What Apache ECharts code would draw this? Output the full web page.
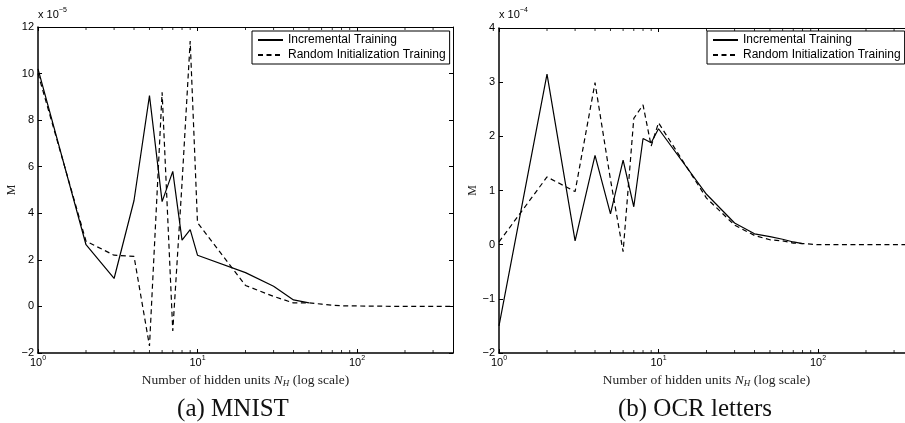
<!DOCTYPE html>
<html><head><meta charset="utf-8">
<script src="https://cdn.jsdelivr.net/npm/echarts@6/dist/echarts.min.js"></script>
<style>html,body{margin:0;padding:0;background:#fff}#c{width:905px;height:423px}</style>
</head><body><div id="c"></div>
<script>
// ---- data (values in displayed units: MNIST x1e-5, OCR x1e-4) ----
const incX = [1,2,3,4,5,6,7,8,9,10,20,30,40,50];
const mnistInc = [10.2,2.65,1.2,4.55,9.05,4.5,5.8,2.85,3.3,2.2,1.45,0.87,0.28,0.15];
const randX = [1,2,3,4,5,6,7,8,9,10,20,30,40,50,60,70,80,90,100,200,300,400];
const mnistRand = [10.0,2.8,2.2,2.15,-1.7,9.2,-1.05,5.3,11.4,3.6,0.9,0.43,0.15,0.15,0.1,0.05,0.03,0.02,0.02,0.0,0.0,0.0];
const ocrIncX = [1,2,3,4,5,6,7,8,9,10,20,30,40,50,60,70,80];
const ocrInc = [-1.5,3.15,0.07,1.65,0.57,1.56,0.7,1.96,1.88,2.14,0.93,0.4,0.2,0.15,0.1,0.05,0.02];
const ocrRand = [0.05,1.25,0.98,2.99,1.2,-0.13,2.33,2.58,1.82,2.25,0.86,0.36,0.17,0.09,0.07,0.03,0.02,0.01,0.0,0.0,0.0,0.0];
const minorTickX = [2,3,4,5,6,7,8,9,20,30,40,50,60,70,80,90,200,300];
const seriesNames = ['Incremental Training','Random Initialization Training'];
const mnistYTicks = {min:-2, max:12, interval:2};
const ocrYTicks = {min:-2, max:4, interval:1};
const xRange = {min:1, max:400};
const captions = ['(a) MNIST','(b) OCR letters'];
const exponents = ['\u22125','\u22124'];

const zip = (xs, ys) => xs.map((x,i)=>[x, ys[i]]);
const SANS = 'Liberation Sans', SERIF = 'Liberation Serif';

function xAxes(gi){
  return [
    {gridIndex:gi, type:'log', logBase:10, min:xRange.min, max:xRange.max, position:'bottom',
     axisLine:{onZero:false, lineStyle:{color:'#000', width:1.5}},
     axisTick:{inside:true, length:4, lineStyle:{color:'#000', width:1}},
     splitLine:{show:false},
     axisLabel:{color:'#000', margin:2, fontFamily:SANS, fontSize:11,
       formatter:v=>{const e=Math.log10(v); if(Math.abs(e-Math.round(e))<1e-9) return '{b|10}{s|'+Math.round(e)+'}'; return '';},
       rich:{b:{fontFamily:SANS,fontSize:11,color:'#000'}, s:{fontFamily:SANS,fontSize:7,color:'#000',padding:[0,0,9,0]}}},
     name:'Number of hidden units {i|N}{sub|H} (log scale)', nameLocation:'middle', nameGap:18,
     nameTextStyle:{fontFamily:SERIF, fontSize:13.5, color:'#222',
       rich:{i:{fontFamily:SERIF,fontSize:13.5,fontStyle:'italic',color:'#222'},
             sub:{fontFamily:SERIF,fontSize:9,fontStyle:'italic',color:'#222',padding:[6,0,0,0]}}}},
    {gridIndex:gi, type:'log', logBase:10, min:xRange.min, max:xRange.max, position:'top',
     axisLine:{onZero:false, lineStyle:{color:'#000', width:1}},
     axisTick:{inside:true, length:4, lineStyle:{color:'#000', width:1}},
     splitLine:{show:false}, axisLabel:{show:false}}
  ];
}
function yAxes(gi, t, gap){
  return [
    {gridIndex:gi, type:'value', min:t.min, max:t.max, interval:t.interval, position:'left',
     axisLine:{show:true, onZero:false, lineStyle:{color:'#000', width:1.5}},
     axisTick:{show:true, inside:true, length:4, lineStyle:{color:'#000'}},
     splitLine:{show:false},
     axisLabel:{color:'#000', fontFamily:SANS, fontSize:11, margin:4, formatter:v=>String(v).replace('-','\u2212')},
     name:'M', nameLocation:'middle', nameRotate:90, nameGap:gap,
     nameTextStyle:{fontFamily:SERIF, fontSize:12, color:'#222'}},
    {gridIndex:gi, type:'value', min:t.min, max:t.max, interval:t.interval, position:'right',
     axisLine:{show:true, onZero:false, lineStyle:{color:'#000', width:1}},
     axisTick:{show:true, inside:true, length:4, lineStyle:{color:'#000'}},
     splitLine:{show:false}, axisLabel:{show:false}}
  ];
}
function lineSeries(gi, xs, ys, name, dashed){
  return {type:'line', name:name, xAxisIndex:gi*2, yAxisIndex:gi*2, data:zip(xs,ys),
    symbol:'none', silent:true, animation:false,
    lineStyle:{color:'#000', width:1.2, type: dashed ? [5,3.5] : 'solid'}, itemStyle:{color:'#000'}};
}
function minorSeries(gi, t){
  return [
    {type:'scatter', name:'minorB'+gi, xAxisIndex:gi*2, yAxisIndex:gi*2, data:minorTickX.map(x=>[x,t.min]),
     symbol:'rect', symbolSize:[1,3], symbolOffset:[0,-1.5], itemStyle:{color:'#000'}, clip:false, silent:true, animation:false},
    {type:'scatter', name:'minorT'+gi, xAxisIndex:gi*2, yAxisIndex:gi*2, data:minorTickX.map(x=>[x,t.max]),
     symbol:'rect', symbolSize:[1,3], symbolOffset:[0,1.5], itemStyle:{color:'#000'}, clip:false, silent:true, animation:false}
  ];
}
function legendAt(left){
  return {left:left, top:31, orient:'vertical', data:seriesNames, itemWidth:25, itemHeight:12, itemGap:3,
    padding:[3,4,3,5], borderColor:'#000', borderWidth:1, backgroundColor:'#fff', borderRadius:0,
    itemStyle:{opacity:0}, selectedMode:false,
    textStyle:{fontFamily:SANS, fontSize:12, color:'#000', lineHeight:12}};
}

const chart = echarts.init(document.getElementById('c'), null, {renderer:'canvas'});
chart.setOption({
  animation:false,
  backgroundColor:'#fff',
  grid:[{left:38, top:27, width:415, height:326, outerBoundsMode:'none', containLabel:false},
        {left:499, top:28, width:415, height:325, outerBoundsMode:'none', containLabel:false}],
  xAxis:[...xAxes(0), ...xAxes(1)],
  yAxis:[...yAxes(0, mnistYTicks, 19), ...yAxes(1, ocrYTicks, 13)],
  legend:[legendAt(252), legendAt(707)],
  series:[
    lineSeries(0, incX, mnistInc, seriesNames[0], false),
    lineSeries(0, randX, mnistRand, seriesNames[1], true),
    lineSeries(1, ocrIncX, ocrInc, seriesNames[0], false),
    lineSeries(1, randX, ocrRand, seriesNames[1], true),
    ...minorSeries(0, mnistYTicks), ...minorSeries(1, ocrYTicks)
  ],
  graphic:[
    {type:'text', left:38, top:7, silent:true, style:{text:'{a|x 10}{b|'+exponents[0]+'}', fill:'#000',
      rich:{a:{fontFamily:SANS,fontSize:11,fill:'#000'}, b:{fontFamily:SANS,fontSize:7,fill:'#000',padding:[0,0,9,0]}}}},
    {type:'text', left:499, top:7, silent:true, style:{text:'{a|x 10}{b|'+exponents[1]+'}', fill:'#000',
      rich:{a:{fontFamily:SANS,fontSize:11,fill:'#000'}, b:{fontFamily:SANS,fontSize:7,fill:'#000',padding:[0,0,9,0]}}}},
    {type:'text', x:233, y:409, silent:true, style:{text:captions[0], fontFamily:SERIF, fontSize:25, fill:'#111', align:'center', verticalAlign:'middle'}},
    {type:'text', x:695, y:409, silent:true, style:{text:captions[1], fontFamily:SERIF, fontSize:25, fill:'#111', align:'center', verticalAlign:'middle'}}
  ]
});
</script></body></html>
